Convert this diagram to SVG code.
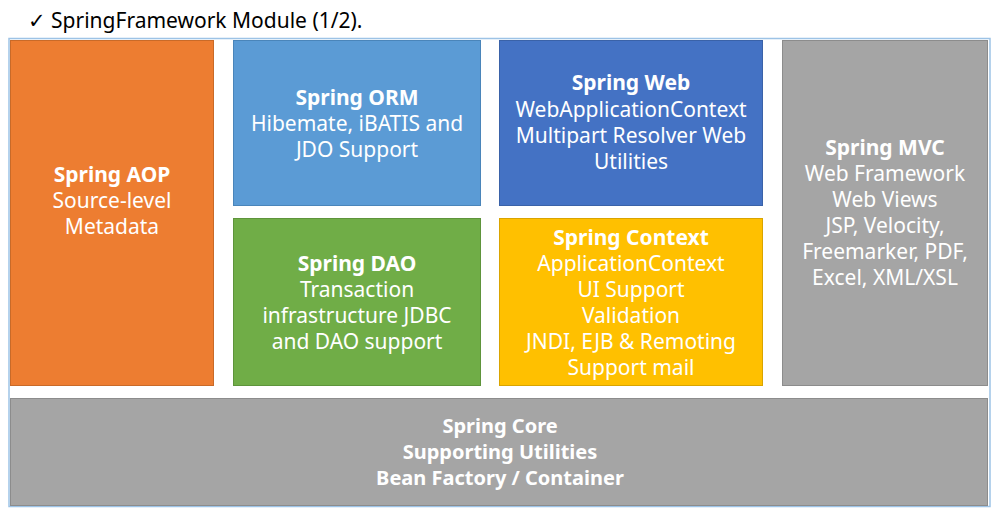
<svg xmlns="http://www.w3.org/2000/svg" width="994" height="512" viewBox="0 0 994 512">
<style>
.t{font-family:"Noto Sans","Open Sans","DejaVu Sans",sans-serif;font-size:21px;fill:#fff;text-anchor:middle}
.b{font-weight:bold}
.c{font-size:20px}
.box{stroke-width:1}
.title{font-family:"Noto Sans","Open Sans","DejaVu Sans",sans-serif;font-size:21px;fill:#000}
</style>
<rect x="0" y="0" width="994" height="512" fill="#fff"/>
<text class="title" x="28" y="28">✓ SpringFramework Module (1/2).</text>
<rect x="9" y="38.5" width="981" height="468" fill="#fff" stroke="#9DC3E6" stroke-width="1.5"/>
<g id="aop">
<rect class="box" x="10.5" y="40.5" width="203" height="345" fill="#ED7D31" stroke="#C96A28"/>
<text class="t b" x="112" y="182">Spring AOP</text>
<text class="t" x="112" y="208">Source-level</text>
<text class="t" x="112" y="234">Metadata</text>
</g>
<g id="orm">
<rect class="box" x="233.5" y="40.5" width="247" height="165" fill="#5B9BD5" stroke="#4A85BA"/>
<text class="t b" x="357" y="105">Spring ORM</text>
<text class="t" x="357" y="131">Hibemate, iBATIS and</text>
<text class="t" x="357" y="157">JDO Support</text>
</g>
<g id="dao">
<rect class="box" x="233.5" y="218.5" width="247" height="167" fill="#70AD47" stroke="#5E943B"/>
<text class="t b" x="357" y="271">Spring DAO</text>
<text class="t" x="357" y="297">Transaction</text>
<text class="t" x="357" y="323">infrastructure JDBC</text>
<text class="t" x="357" y="349">and DAO support</text>
</g>
<g id="web">
<rect class="box" x="499.5" y="40.5" width="263" height="165" fill="#4472C4" stroke="#3A62A8"/>
<text class="t b" x="631" y="90">Spring Web</text>
<text class="t" x="631" y="117">WebApplicationContext</text>
<text class="t" x="631" y="143">Multipart Resolver Web</text>
<text class="t" x="631" y="169">Utilities</text>
</g>
<g id="context">
<rect class="box" x="499.5" y="218.5" width="263" height="167" fill="#FFC000" stroke="#D9A400"/>
<text class="t b" x="631" y="245">Spring Context</text>
<text class="t" x="631" y="271">ApplicationContext</text>
<text class="t" x="631" y="297">UI Support</text>
<text class="t" x="631" y="323">Validation</text>
<text class="t" x="631" y="349">JNDI, EJB &amp; Remoting</text>
<text class="t" x="631" y="375">Support mail</text>
</g>
<g id="mvc">
<rect class="box" x="782.5" y="40.5" width="205" height="345" fill="#A5A5A5" stroke="#8C8C8C"/>
<text class="t b" x="885" y="155">Spring MVC</text>
<text class="t" x="885" y="181">Web Framework</text>
<text class="t" x="885" y="207">Web Views</text>
<text class="t" x="885" y="233">JSP, Velocity,</text>
<text class="t" x="885" y="259">Freemarker, PDF,</text>
<text class="t" x="885" y="285">Excel, XML/XSL</text>
</g>
<g id="core">
<rect class="box" x="10.5" y="398.5" width="977" height="107" fill="#A5A5A5" stroke="#8C8C8C"/>
<text class="t b c" x="500" y="433">Spring Core</text>
<text class="t b c" x="500" y="459">Supporting Utilities</text>
<text class="t b c" x="500" y="485">Bean Factory / Container</text>
</g>
<g id="connectors"></g>
</svg>
